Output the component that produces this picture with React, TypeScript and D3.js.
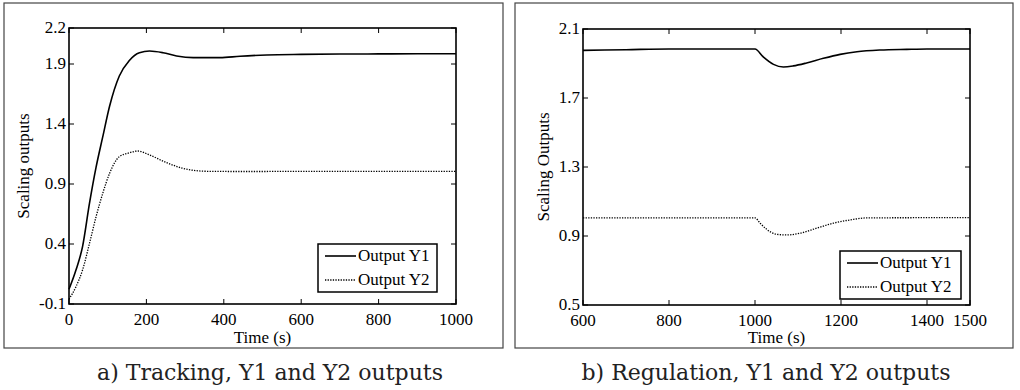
import { useEffect, useRef } from 'react';
import * as d3 from 'd3';

// Tracking panel (a)
const trackTimeY1 = [0, 18, 35, 53, 70, 87, 105, 130, 156, 182, 208, 243, 278, 321, 390, 442, 511, 600, 700, 800, 900, 1000];
const trackY1 = [0.023, 0.183, 0.378, 0.74, 1.04, 1.29, 1.55, 1.8, 1.93, 1.994, 2.008, 1.994, 1.967, 1.953, 1.953, 1.965, 1.975, 1.98, 1.983, 1.984, 1.985, 1.985];
const trackTimeY2 = [0, 18, 35, 53, 70, 87, 105, 130, 156, 178, 208, 252, 295, 355, 450, 600, 800, 1000];
const trackY2 = [-0.06, 0.044, 0.183, 0.406, 0.628, 0.82, 0.99, 1.128, 1.16, 1.175, 1.142, 1.078, 1.03, 1.006, 1.004, 1.005, 1.005, 1.005];
const trackXTicks = [0, 200, 400, 600, 800, 1000];
const trackYTicks = [-0.1, 0.4, 0.9, 1.4, 1.9, 2.2];

// Regulation panel (b)
const regTimeY1 = [600, 700, 800, 900, 1000, 1019, 1043, 1066, 1089, 1120, 1159, 1198, 1237, 1291, 1353, 1400, 1500];
const regY1 = [1.976, 1.98, 1.984, 1.984, 1.984, 1.939, 1.895, 1.88, 1.886, 1.903, 1.93, 1.953, 1.968, 1.978, 1.982, 1.984, 1.984];
const regTimeY2 = [600, 800, 1000, 1012, 1027, 1050, 1074, 1105, 1143, 1182, 1221, 1260, 1400, 1500];
const regY2 = [1.005, 1.005, 1.005, 0.974, 0.939, 0.91, 0.906, 0.916, 0.945, 0.974, 0.993, 1.005, 1.006, 1.006];
const regXTicks = [600, 800, 1000, 1200, 1400, 1500];
const regYTicks = [0.5, 0.9, 1.3, 1.7, 2.1];

const legendLabels = ['Output Y1', 'Output Y2'];

type PanelSpec = {
  frame: { x: number; y: number; w: number; h: number };
  plot: { left: number; right: number; top: number; bottom: number };
  legend: { x: number; y: number; w: number; h: number };
  xDomain: [number, number];
  yDomain: [number, number];
  xTicks: number[];
  yTicks: number[];
  y1: [number[], number[]];
  y2: [number[], number[]];
  yLabel: string;
  yLabelX: number;
  caption: string;
  captionX: number;
};

const panels: PanelSpec[] = [
  {
    frame: { x: 4, y: 3, w: 499, h: 345 },
    plot: { left: 69, right: 456, top: 28, bottom: 304 },
    legend: { x: 318, y: 244, w: 119, h: 48 },
    xDomain: [0, 1000],
    yDomain: [-0.1, 2.2],
    xTicks: trackXTicks,
    yTicks: trackYTicks,
    y1: [trackTimeY1, trackY1],
    y2: [trackTimeY2, trackY2],
    yLabel: 'Scaling outputs',
    yLabelX: 29,
    caption: 'a) Tracking, Y1 and Y2 outputs',
    captionX: 270,
  },
  {
    frame: { x: 515, y: 3, w: 498, h: 345 },
    plot: { left: 583, right: 970, top: 29, bottom: 305 },
    legend: { x: 840, y: 251, w: 121, h: 48 },
    xDomain: [600, 1500],
    yDomain: [0.5, 2.1],
    xTicks: regXTicks,
    yTicks: regYTicks,
    y1: [regTimeY1, regY1],
    y2: [regTimeY2, regY2],
    yLabel: 'Scaling Outputs',
    yLabelX: 549,
    caption: 'b) Regulation, Y1 and Y2 outputs',
    captionX: 766,
  },
];

const serif = '"Liberation Serif", "Times New Roman", serif';
const fontSize = '17px';

const App = () => {
  const ref = useRef<SVGSVGElement>(null);

  useEffect(() => {
    if (!ref.current) return;
    const svg = d3.select(ref.current);
    svg.selectAll('*').remove();

    panels.forEach(p => {
      const g = svg.append('g');

      // outer frame
      g.append('rect')
        .attr('x', p.frame.x)
        .attr('y', p.frame.y)
        .attr('width', p.frame.w)
        .attr('height', p.frame.h)
        .attr('fill', 'white')
        .attr('stroke', '#444')
        .attr('stroke-width', 1.2);

      const x = d3.scaleLinear().domain(p.xDomain).range([p.plot.left, p.plot.right]);
      const y = d3.scaleLinear().domain(p.yDomain).range([p.plot.bottom, p.plot.top]);

      // curves
      const drawSeries = (times: number[], vals: number[], dashed: boolean) => {
        const pts = times.map((t, i) => [t, vals[i]] as [number, number]);
        const line = d3.line<[number, number]>()
          .x(d => x(d[0]))
          .y(d => y(d[1]))
          .curve(d3.curveMonotoneX);
        g.append('path')
          .attr('d', line(pts))
          .attr('fill', 'none')
          .attr('stroke', '#000')
          .attr('stroke-width', dashed ? 1.3 : 1.6)
          .attr('stroke-dasharray', dashed ? '1.3,1.3' : null);
      };
      drawSeries(p.y1[0], p.y1[1], false);
      drawSeries(p.y2[0], p.y2[1], true);

      // inward ticks on all four sides
      const tickLen = 5;
      p.xTicks.forEach(t => {
        g.append('line').attr('x1', x(t)).attr('x2', x(t))
          .attr('y1', p.plot.bottom).attr('y2', p.plot.bottom - tickLen)
          .attr('stroke', '#000').attr('stroke-width', 1);
        g.append('line').attr('x1', x(t)).attr('x2', x(t))
          .attr('y1', p.plot.top).attr('y2', p.plot.top + tickLen)
          .attr('stroke', '#000').attr('stroke-width', 1);
        g.append('text')
          .attr('x', x(t))
          .attr('y', p.plot.bottom + 21)
          .attr('text-anchor', 'middle')
          .style('font-family', serif)
          .style('font-size', fontSize)
          .text(t);
      });
      p.yTicks.forEach(v => {
        g.append('line').attr('x1', p.plot.left).attr('x2', p.plot.left + tickLen)
          .attr('y1', y(v)).attr('y2', y(v))
          .attr('stroke', '#000').attr('stroke-width', 1);
        g.append('line').attr('x1', p.plot.right).attr('x2', p.plot.right - tickLen)
          .attr('y1', y(v)).attr('y2', y(v))
          .attr('stroke', '#000').attr('stroke-width', 1);
        g.append('text')
          .attr('x', p.plot.left - 3)
          .attr('y', y(v) + 5)
          .attr('text-anchor', 'end')
          .style('font-family', serif)
          .style('font-size', fontSize)
          .text(v);
      });

      // plot box
      g.append('rect')
        .attr('x', p.plot.left)
        .attr('y', p.plot.top)
        .attr('width', p.plot.right - p.plot.left)
        .attr('height', p.plot.bottom - p.plot.top)
        .attr('fill', 'none')
        .attr('stroke', '#000')
        .attr('stroke-width', 1.6);

      // axis labels
      g.append('text')
        .attr('x', (p.plot.left + p.plot.right) / 2)
        .attr('y', 343)
        .attr('text-anchor', 'middle')
        .style('font-family', serif)
        .style('font-size', fontSize)
        .text('Time (s)');

      g.append('text')
        .attr('transform', `translate(${p.yLabelX},${(p.plot.top + p.plot.bottom) / 2}) rotate(-90)`)
        .attr('text-anchor', 'middle')
        .style('font-family', serif)
        .style('font-size', fontSize)
        .text(p.yLabel);

      // legend
      const lg = g.append('g').attr('transform', `translate(${p.legend.x},${p.legend.y})`);
      lg.append('rect')
        .attr('width', p.legend.w)
        .attr('height', p.legend.h)
        .attr('fill', 'white')
        .attr('stroke', '#000')
        .attr('stroke-width', 1.5);
      legendLabels.forEach((label, i) => {
        const ly = 12 + i * 24;
        lg.append('line')
          .attr('x1', 7).attr('x2', 38)
          .attr('y1', ly).attr('y2', ly)
          .attr('stroke', '#000')
          .attr('stroke-width', i === 0 ? 1.6 : 1.3)
          .attr('stroke-dasharray', i === 0 ? null : '1.3,1.3');
        lg.append('text')
          .attr('x', 40)
          .attr('y', ly + 5)
          .style('font-family', serif)
          .style('font-size', fontSize)
          .text(label);
      });

      // caption
      svg.append('text')
        .attr('x', p.captionX)
        .attr('y', 380)
        .attr('text-anchor', 'middle')
        .style('font-family', '"DejaVu Serif", serif')
        .style('font-size', '22px')
        .style('fill', '#222')
        .text(p.caption);
    });
  }, []);

  return (
    <svg
      ref={ref}
      width={1020}
      height={390}
      style={{ position: 'absolute', left: 0, top: 0, background: 'white' }}
    />
  );
};

export default App;
